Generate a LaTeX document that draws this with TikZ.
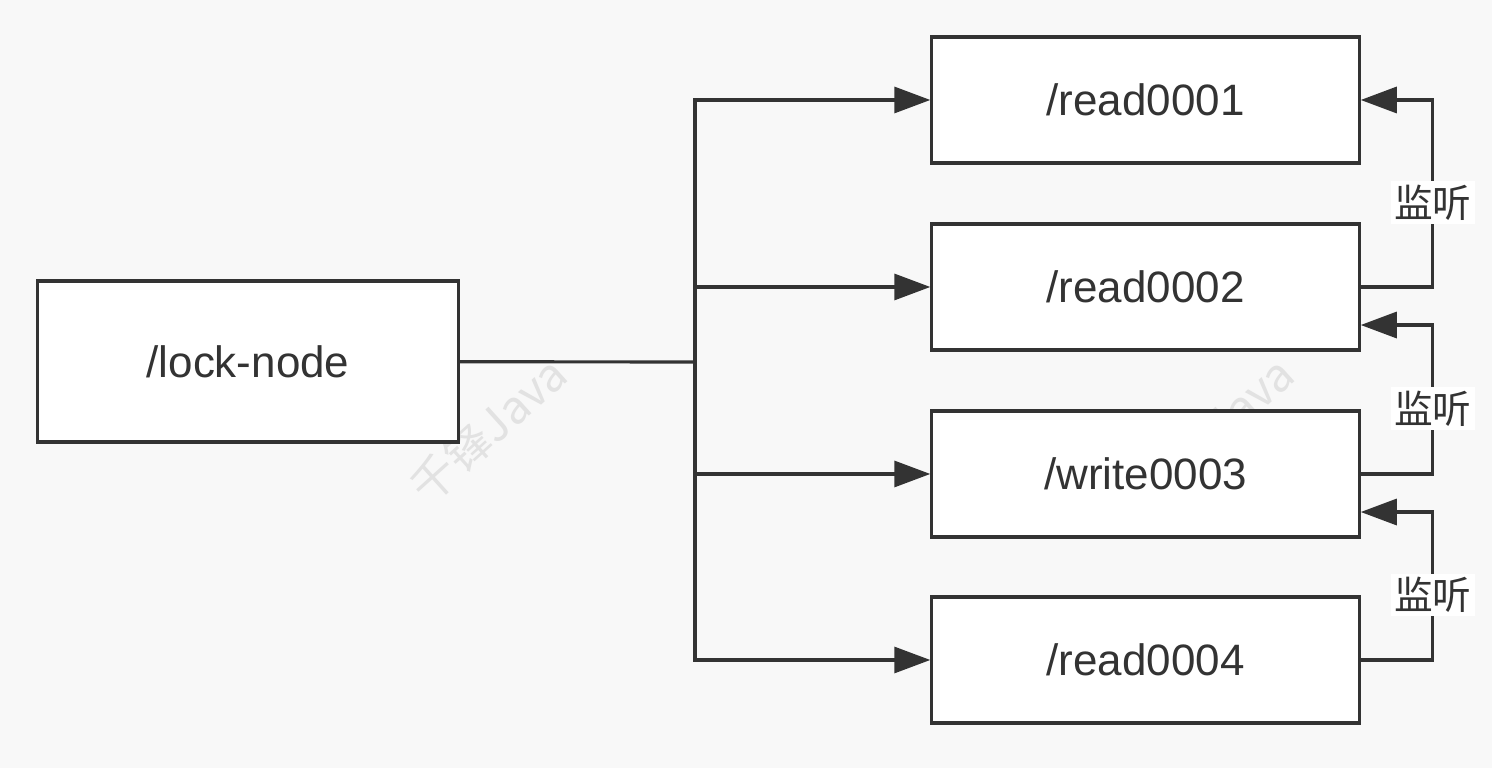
\documentclass[tikz,border=0pt]{standalone}
\usepackage{fontspec}
\setmainfont{Liberation Sans}
\newfontfamily\cjk{Noto Sans CJK SC}
\usetikzlibrary{arrows.meta,positioning,calc}
\definecolor{ink}{HTML}{333333}
\definecolor{paper}{HTML}{F8F8F8}
\definecolor{faint}{HTML}{E2E2E2}
\tikzset{
  zbox/.style={draw=ink,line width=0.9pt,fill=white,minimum width=4.27cm,minimum height=1.26cm,font=\fontsize{12.5}{15}\selectfont,text=ink},
  link/.style={draw=ink,line width=0.9pt},
  arr/.style={link,-{Triangle[length=3.6mm,width=2.6mm]}},
  tag/.style={fill=white,inner sep=1pt,font=\cjk\fontsize{11}{13}\selectfont,text=ink},
  wmark/.style={text=faint,rotate=42,font=\cjk\fontsize{13}{15}\selectfont}
}
\begin{document}
\begin{tikzpicture}[x=0.01cm,y=-0.01cm]
        \fill[paper] (0,0) rectangle (1492,768);
        \useasboundingbox (0,0) rectangle (1492,768);
        % watermarks
        \node[wmark] (wm1) at (488,430) {千锋Java};
        \node[wmark] (wm2) at (1215,430) {千锋Java};
        % nodes
        \node[zbox,minimum width=4.2cm,minimum height=1.61cm] (lock) at (248,361.5) {/lock-node};
        \node[zbox] (r1) at (1145.5,100) {/read0001};
        \node[zbox] (r2) at (1145.5,287) {/read0002};
        \node[zbox] (w3) at (1145.5,474) {/write0003};
        \node[zbox] (r4) at (1145.5,660) {/read0004};
        \coordinate (fork) at (695,362);
        \draw[link] (lock) -- (fork);
        \foreach \n in {r1,r2,w3,r4}
          \draw[arr] (fork) |- (\n);
        % watch links
        \draw[arr] (r2.east) -- ++(72,0) |- node[tag,pos=0.226] {监听} (r1.east);
        \draw[arr] (w3.east) -- ++(72,0) |- node[tag,pos=0.22] {监听} ([yshift=-0.38cm]r2.east);
        \draw[arr] (r4.east) -- ++(72,0) |- node[tag,pos=0.22] {监听} ([yshift=-0.38cm]w3.east);
      \end{tikzpicture}
\end{document}
